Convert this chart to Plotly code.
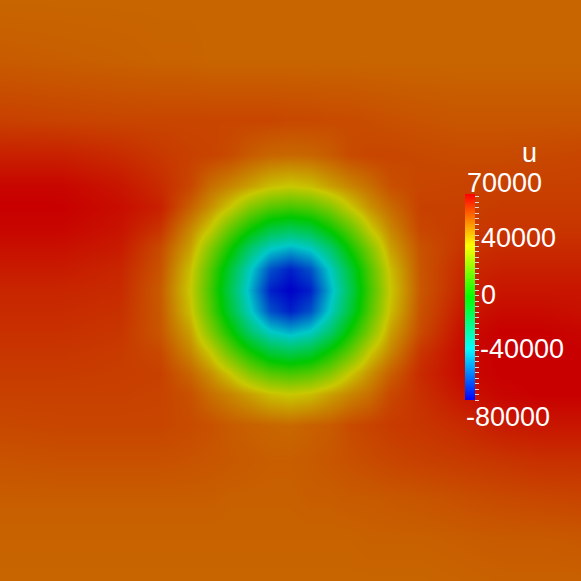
import numpy as np
import plotly.graph_objects as go

# sample positions of the field (image pixels, y grows downward)
x_px = [0, 60, 120, 160, 190, 210, 230, 250, 270, 290, 310, 330, 350, 370, 390, 420, 460, 500, 540, 581]
y_px = [0, 60, 120, 155, 186, 207, 228, 248, 269, 290, 311, 332, 352, 373, 394, 425, 460, 500, 540, 581]

# u in thousands
u_k = [
    [51, 51, 51, 51, 51, 51, 51, 51, 51, 51, 51, 51, 51, 51, 51, 51, 51, 51, 51, 51],
    [53, 52.5, 52, 51.5, 51.5, 51, 51, 51, 51, 51, 51, 51, 51, 51, 51, 51, 51, 51, 51, 51],
    [58, 57.5, 57, 57, 57, 57, 57, 57, 57, 56.5, 56.5, 56, 56, 55.5, 55, 54.5, 54, 54, 54, 54],
    [64, 64, 62, 59.5, 58, 57.5, 56, 53, 51, 50.5, 51, 53, 56, 57, 57, 56.5, 56, 56, 56.5, 57],
    [69, 69, 66, 62, 57, 49.5, 45, 40, 34.5, 32.5, 34.5, 40, 45, 49.5, 55, 57, 57.5, 58, 58, 58],
    [70, 70, 67.5, 64, 52, 43, 32.5, 19.5, 11, 8, 11, 19.5, 32.5, 43, 50, 58, 58, 59, 59, 59],
    [69, 69, 66.5, 60.5, 45, 32.5, 14, -2, -15.5, -20, -15.5, -2, 14, 32.5, 45, 57, 59, 60, 60, 60],
    [67, 67, 65, 56, 40, 19.5, -2, -25, -41, -47, -41, -25, -2, 19.5, 40, 54.5, 60, 62, 62, 62],
    [65, 65, 63, 54.5, 34.5, 11, -15.5, -41, -65, -74, -65, -41, -15.5, 11, 34.5, 54, 62, 64, 64, 64],
    [63, 63, 62, 53, 32.5, 8, -20, -47, -74, -80, -74, -47, -20, 8, 32.5, 53.5, 63, 66, 66, 66],
    [62, 62, 61, 53.5, 34.5, 11, -15.5, -41, -65, -74, -65, -41, -15.5, 11, 34.5, 54.5, 65, 68, 68, 67],
    [61, 61, 60, 54, 40, 19.5, -2, -25, -41, -47, -41, -25, -2, 19.5, 40, 56, 67, 70, 70, 69],
    [60, 60, 59, 56.5, 45, 32.5, 14, -2, -15.5, -20, -15.5, -2, 14, 32.5, 45, 60, 68, 70, 70, 70],
    [59, 59, 58.5, 58, 51, 43, 32.5, 19.5, 11, 8, 11, 19.5, 32.5, 43, 52, 62, 68, 70, 70, 70],
    [58, 58, 58, 57.5, 55, 49.5, 45, 40, 34.5, 32.5, 34.5, 40, 45, 49.5, 56.5, 61, 66, 69, 70, 70],
    [56.5, 57, 57, 57, 56, 55, 53, 52, 51, 50.5, 52, 53, 56, 57.5, 59, 60, 62, 65, 66, 66],
    [54.5, 55, 55, 55, 54.5, 54, 53.5, 53, 52.5, 52.5, 53, 54, 55, 56, 57, 58, 59, 60, 61, 61],
    [52.5, 52.5, 52.5, 52.5, 52.5, 52.5, 52, 52, 52, 52, 52.5, 52.5, 53, 53, 53.5, 54, 55, 56, 56.5, 57],
    [51.5, 51.5, 51.5, 51.5, 51.5, 51.5, 51.5, 51.5, 51.5, 51.5, 51.5, 51.5, 51.5, 52, 52, 52, 52.5, 53, 53, 53.5],
    [51, 51, 51, 51, 51, 51, 51, 51, 51, 51, 51, 51, 51, 51, 51, 51, 51.5, 52, 52, 52],
]
u = np.array(u_k) * 1000

u_min, u_max = -80000, 70000
bar_ticks = list(range(u_min, u_max, 4000))

# legend texts and where they sit (px)
bar_texts = [
    ("u", 529, 153, "center"),
    ("70000", 504, 183, "center"),
    ("40000", 480, 238, "left"),
    ("0", 480, 295, "left"),
    ("-40000", 479, 349, "left"),
    ("-80000", 508, 417, "center"),
]

rainbow = [[0, "rgb(0,0,255)"], [0.25, "rgb(0,255,255)"], [0.5, "rgb(0,255,0)"],
           [0.75, "rgb(255,255,0)"], [1, "rgb(255,0,0)"]]
# the rendered surface is lit, so it comes out darker than the legend bar
rainbow_lit = [[0, "rgb(0,0,200)"], [0.25, "rgb(0,200,200)"], [0.5, "rgb(0,200,0)"],
               [0.75, "rgb(200,200,0)"], [1, "rgb(200,0,0)"]]

W = H = 581
FONT = "Liberation Sans"

fig = go.Figure()

# bright copy underneath only carries the colour bar
fig.add_trace(go.Heatmap(
    x=x_px, y=y_px, z=u, zmin=u_min, zmax=u_max,
    colorscale=rainbow, zsmooth="best", hoverinfo="skip",
    colorbar=dict(
        thickness=10, thicknessmode="pixels",
        len=206, lenmode="pixels",
        x=465 / W, xanchor="left", xpad=0,
        y=1 - 297 / H, yanchor="middle", ypad=0,
        outlinewidth=0,
        tickmode="array", tickvals=bar_ticks,
        ticktext=["" for _ in bar_ticks],
        ticks="outside", ticklen=4, tickwidth=1, tickcolor="#d9d9d9",
    ),
))
fig.add_trace(go.Heatmap(
    x=x_px, y=y_px, z=u, zmin=u_min, zmax=u_max,
    colorscale=rainbow_lit, zsmooth="best", showscale=False, hoverinfo="skip",
))

for text, px, py, anchor in bar_texts:
    fig.add_annotation(
        text=text, x=px / W, y=1 - py / H, xref="paper", yref="paper",
        xanchor=anchor, yanchor="middle", showarrow=False, borderpad=0,
        font=dict(family=FONT, size=27, color="white"),
    )

fig.update_layout(
    width=W, height=H,
    margin=dict(l=0, r=0, t=0, b=0),
    paper_bgcolor="#c86400", plot_bgcolor="#c86400",
    showlegend=False,
)
fig.update_xaxes(range=[0, W], visible=False)
fig.update_yaxes(range=[H, 0], visible=False)

fig.write_html(
    "out.html",
    config={"displayModeBar": False},
    post_script="document.body.style.margin = '0';",
)
